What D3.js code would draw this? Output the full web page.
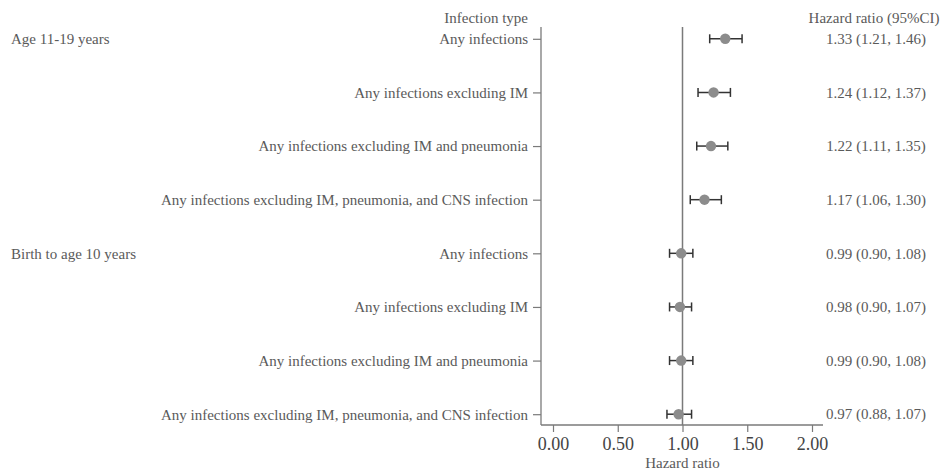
<!DOCTYPE html>
<html>
<head>
<meta charset="utf-8">
<script src="https://cdn.jsdelivr.net/npm/d3@7"></script>
<style>
  body { margin: 0; background: #fff; }
</style>
</head>
<body>
<script>
const width = 943;
const height = 472;
const serif = "'Liberation Serif', 'Times New Roman', 'DejaVu Serif', serif";

// data
const groups = ["Age 11-19 years", "Birth to age 10 years"];
const infectionTypes = [
    "Any infections",
    "Any infections excluding IM",
    "Any infections excluding IM and pneumonia",
    "Any infections excluding IM, pneumonia, and CNS infection",
    "Any infections",
    "Any infections excluding IM",
    "Any infections excluding IM and pneumonia",
    "Any infections excluding IM, pneumonia, and CNS infection"
];
const rowGroup = [0, 0, 0, 0, 1, 1, 1, 1];
const hr = [1.33, 1.24, 1.22, 1.17, 0.99, 0.98, 0.99, 0.97];
const lower = [1.21, 1.12, 1.11, 1.06, 0.90, 0.90, 0.90, 0.88];
const upper = [1.46, 1.37, 1.35, 1.30, 1.08, 1.07, 1.08, 1.07];
const xTicks = [0, 0.5, 1, 1.5, 2];

const textColor = "#5a5a5a";
const axisColor = "#7a7a7a";
const fontSize = "15px";

const rows = hr.map((v, i) => ({
    i: i,
    label: infectionTypes[i],
    group: rowGroup[i],
    hr: v,
    lo: lower[i],
    hi: upper[i]
}));

const svg = d3.select("body")
    .append("svg")
    .attr("width", width)
    .attr("height", height)
    .attr("font-family", serif);

const x = d3.scaleLinear()
    .domain([0, 2])
    .range([553, 812]);

const y = d3.scalePoint()
    .domain(rows.map(d => d.i))
    .range([27, 426])
    .padding(0.22);

const axisLeftX = 541;
const axisBottomY = 425;

// left axis (row labels)
const yAxis = d3.axisLeft(y)
    .tickSize(8)
    .tickSizeOuter(0)
    .tickPadding(5)
    .tickFormat(i => infectionTypes[i]);

const gy = svg.append("g")
    .attr("transform", `translate(${axisLeftX},0)`)
    .call(yAxis);
gy.select(".domain").remove();
gy.selectAll(".tick line").attr("stroke", axisColor).attr("stroke-width", 1.2);
gy.selectAll(".tick text")
    .attr("fill", textColor)
    .style("font-size", fontSize);

svg.append("line")
    .attr("x1", axisLeftX).attr("x2", axisLeftX)
    .attr("y1", 27).attr("y2", axisBottomY)
    .attr("stroke", axisColor)
    .attr("stroke-width", 1.3);

// bottom axis
const xAxis = d3.axisBottom(x)
    .tickValues(xTicks)
    .tickSize(7)
    .tickSizeOuter(0)
    .tickPadding(5)
    .tickFormat(d3.format(".2f"));

const gx = svg.append("g")
    .attr("transform", `translate(0,${axisBottomY})`)
    .call(xAxis);
gx.select(".domain").remove();
gx.selectAll(".tick line").attr("stroke", axisColor).attr("stroke-width", 1.2);
gx.selectAll(".tick text")
    .attr("fill", "#444")
    .style("font-size", "18px");

svg.append("line")
    .attr("x1", axisLeftX).attr("x2", 823)
    .attr("y1", axisBottomY).attr("y2", axisBottomY)
    .attr("stroke", axisColor)
    .attr("stroke-width", 1.3);

svg.append("text")
    .attr("x", x(1))
    .attr("y", 468)
    .attr("text-anchor", "middle")
    .attr("fill", textColor)
    .style("font-size", fontSize)
    .text("Hazard ratio");

// reference line at HR = 1
svg.append("line")
    .attr("x1", x(1)).attr("x2", x(1))
    .attr("y1", 27).attr("y2", axisBottomY)
    .attr("stroke", axisColor)
    .attr("stroke-width", 1.5);

// headers
svg.append("text")
    .attr("x", 528)
    .attr("y", 18)
    .attr("dy", "0.35em")
    .attr("text-anchor", "end")
    .attr("fill", textColor)
    .style("font-size", fontSize)
    .text("Infection type");

svg.append("text")
    .attr("x", 874)
    .attr("y", 18)
    .attr("dy", "0.35em")
    .attr("text-anchor", "middle")
    .attr("fill", textColor)
    .style("font-size", fontSize)
    .text("Hazard ratio (95%CI)");

// group labels
svg.selectAll(".group-label")
    .data(groups)
    .enter()
    .append("text")
    .attr("class", "group-label")
    .attr("x", 11)
    .attr("y", (g, gi) => y(rowGroup.indexOf(gi)))
    .attr("dy", "0.35em")
    .attr("fill", textColor)
    .style("font-size", fontSize)
    .text(g => g);

// error bars
const bars = svg.append("g").selectAll("g")
    .data(rows)
    .enter()
    .append("g")
    .attr("transform", d => `translate(0,${y(d.i)})`);

bars.append("line")
    .attr("x1", d => x(d.lo))
    .attr("x2", d => x(d.hi))
    .attr("stroke", "#333")
    .attr("stroke-width", 1.5);

bars.append("line")
    .attr("x1", d => x(d.lo)).attr("x2", d => x(d.lo))
    .attr("y1", -4.5).attr("y2", 4.5)
    .attr("stroke", "#333")
    .attr("stroke-width", 1.5);

bars.append("line")
    .attr("x1", d => x(d.hi)).attr("x2", d => x(d.hi))
    .attr("y1", -4.5).attr("y2", 4.5)
    .attr("stroke", "#333")
    .attr("stroke-width", 1.5);

bars.append("circle")
    .attr("cx", d => x(d.hr))
    .attr("r", 5.2)
    .attr("fill", "#8c8c8c");

// HR text column
svg.selectAll(".hr-label")
    .data(rows)
    .enter()
    .append("text")
    .attr("class", "hr-label")
    .attr("x", 876)
    .attr("y", d => y(d.i))
    .attr("dy", "0.35em")
    .attr("text-anchor", "middle")
    .attr("fill", textColor)
    .style("font-size", fontSize)
    .text(d => `${d.hr.toFixed(2)} (${d.lo.toFixed(2)}, ${d.hi.toFixed(2)})`);

// d3 axes put sans-serif on their groups; force the serif face everywhere
svg.selectAll("text").style("font-family", serif);
</script>
</body>
</html>
